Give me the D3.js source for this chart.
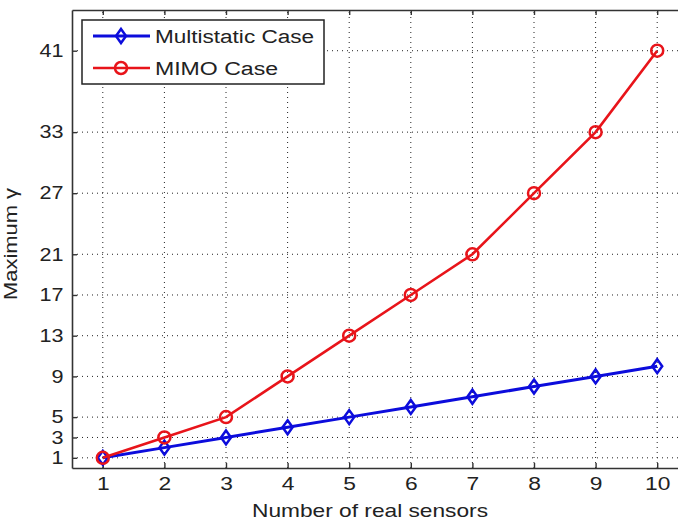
<!DOCTYPE html>
<html>
<head>
<meta charset="utf-8">
<script src="https://cdn.jsdelivr.net/npm/d3@7"></script>
<style>
	body { margin: 0; background: #fff; }
	svg { display: block; font-family: "Liberation Sans", Arial, sans-serif; }
</style>
</head>
<body>
<svg id="chart" width="678" height="521"></svg>
<script>
// data
let sensors = [1, 2, 3, 4, 5, 6, 7, 8, 9, 10];
let multistatic = [1, 2, 3, 4, 5, 6, 7, 8, 9, 10];
let mimo = [1, 3, 5, 9, 13, 17, 21, 27, 33, 41];
let yTicks = [1, 3, 5, 9, 13, 17, 21, 27, 33, 41];
let seriesNames = ["Multistatic Case", "MIMO Case"];

let svg = d3.select("#chart");
let margin = {left: 72, top: 10, right: 688, bottom: 468};
let sx = 1.2; // the picture is stretched sideways

let x = d3.scaleLinear().domain([0.5, 10.5]).range([margin.left, margin.right]);
let y = d3.scaleLinear().domain([0, 45]).range([margin.bottom, margin.top]);

let blue = "#0c0cdc";
let red = "#e8141a";

// dotted grid
let grid = svg.append("g").attr("stroke", "#222").attr("stroke-width", 1).attr("stroke-dasharray", "1,4");
grid.selectAll(".gx").data(sensors).enter().append("line")
	.attr("x1", d => x(d)).attr("x2", d => x(d))
	.attr("y1", margin.bottom).attr("y2", margin.top);
grid.selectAll(".gy").data(yTicks).enter().append("line")
	.attr("y1", d => y(d)).attr("y2", d => y(d))
	.attr("x1", margin.left).attr("x2", margin.right);

// axes with inward ticks
let xAxis = svg.append("g").attr("transform", "translate(0," + margin.bottom + ")")
	.call(d3.axisBottom(x).tickValues(sensors).tickSizeInner(-5).tickSizeOuter(0).tickPadding(9));
let xTop = svg.append("g").attr("transform", "translate(0," + margin.top + ")")
	.call(d3.axisTop(x).tickValues(sensors).tickSizeInner(-5).tickSizeOuter(0).tickFormat(""));
let yAxis = svg.append("g").attr("transform", "translate(" + margin.left + ",0)")
	.call(d3.axisLeft(y).tickValues(yTicks).tickSizeInner(-5).tickSizeOuter(0).tickPadding(8));

[xAxis, xTop, yAxis].forEach(a => {
	a.select(".domain").attr("stroke", "#333").attr("stroke-width", 1.6);
	a.selectAll(".tick line").attr("stroke", "#333").attr("stroke-width", 1.4);
});
xAxis.selectAll("text").attr("font-size", 19).attr("fill", "#222").attr("font-family", null)
	.attr("transform", "scale(" + sx + ",1)");
yAxis.selectAll("text").attr("font-size", 18).attr("fill", "#222").attr("font-family", null)
	.attr("x", -7).attr("transform", "scale(" + sx + ",1)");

// axis titles
svg.append("text")
	.attr("transform", "translate(" + 370 + "," + 517 + ")")
	.attr("text-anchor", "middle").attr("font-size", 19).attr("fill", "#222")
	.attr("textLength", 236).attr("lengthAdjust", "spacingAndGlyphs")
	.text("Number of real sensors");
svg.append("text")
	.attr("transform", "translate(17,244) scale(" + sx + ",1) rotate(-90)")
	.attr("text-anchor", "middle").attr("font-size", 15).attr("fill", "#222")
	.attr("textLength", 112).attr("lengthAdjust", "spacingAndGlyphs")
	.text("Maximum \u03b3");

// series
let line = d3.line().x((d, i) => x(sensors[i])).y(d => y(d));
let diamond = "M0,-7L5,0L0,7L-5,0Z";

let plot = svg.append("g");
plot.append("path").datum(multistatic).attr("d", line)
	.attr("fill", "none").attr("stroke", blue).attr("stroke-width", 3);
plot.selectAll(".dia").data(multistatic).enter().append("path")
	.attr("transform", (d, i) => "translate(" + x(sensors[i]) + "," + y(d) + ")")
	.attr("d", diamond).attr("fill", "none").attr("stroke", blue).attr("stroke-width", 2.5);

plot.append("path").datum(mimo).attr("d", line)
	.attr("fill", "none").attr("stroke", red).attr("stroke-width", 2.6);
plot.selectAll(".circ").data(mimo).enter().append("circle")
	.attr("cx", (d, i) => x(sensors[i])).attr("cy", d => y(d)).attr("r", 6)
	.attr("fill", "none").attr("stroke", red).attr("stroke-width", 2.5);

// legend
let legend = svg.append("g");
legend.append("rect").attr("x", 82).attr("y", 20).attr("width", 242).attr("height", 64)
	.attr("fill", "#fff").attr("stroke", "#222").attr("stroke-width", 1.5);
let items = legend.selectAll(".item").data(seriesNames).enter().append("g")
	.attr("transform", (d, i) => "translate(0," + (36 + i * 32) + ")");
items.append("line").attr("x1", 93).attr("x2", 150)
	.attr("stroke", (d, i) => i ? red : blue).attr("stroke-width", (d, i) => i ? 2.6 : 3);
items.filter((d, i) => i === 0).append("path")
	.attr("transform", "translate(121,0)").attr("d", diamond)
	.attr("fill", "none").attr("stroke", blue).attr("stroke-width", 2.5);
items.filter((d, i) => i === 1).append("circle")
	.attr("cx", 121).attr("r", 6)
	.attr("fill", "none").attr("stroke", red).attr("stroke-width", 2.5);
items.append("text").attr("x", 155).attr("y", 7).attr("font-size", 18).attr("fill", "#222")
	.attr("textLength", (d, i) => i ? 123 : 159).attr("lengthAdjust", "spacingAndGlyphs")
	.text(d => d);
</script>
</body>
</html>
